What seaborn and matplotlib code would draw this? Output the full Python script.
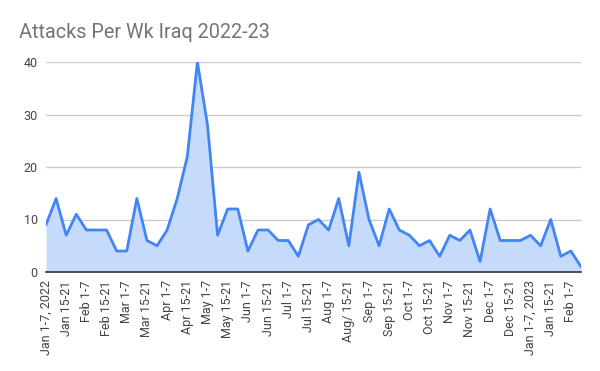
import matplotlib
matplotlib.use("Agg")
import matplotlib.pyplot as plt
import seaborn as sns
import numpy as np
import pandas as pd

attacks = [9, 14, 7, 11, 8, 8, 8, 4, 4, 14, 6, 5, 8, 14, 22, 40, 28, 7, 12, 12,
           4, 8, 8, 6, 6, 3, 9, 10, 8, 14, 5, 19, 10, 5, 12, 8, 7, 5, 6, 3,
           7, 6, 8, 2, 12, 6, 6, 6, 7, 5, 10, 3, 4, 1]
tick_labels = ["Jan 1-7, 2022", "Jan 15-21", "Feb 1-7", "Feb 15-21", "Mar 1-7",
               "Mar 15-21", "Apr 1-7", "Apr 15-21", "May 1-7", "May 15-21",
               "Jun 1-7", "Jun 15-21", "Jul 1-7", "Jul 15-21", "Aug 1-7",
               "Aug/ 15-21", "Sep 1-7", "Sep 15-21", "Oct 1-7", "Oct 15-21",
               "Nov 1-7", "Nov 15-21", "Dec 1-7", "Dec 15-21", "Jan 1-7, 2023",
               "Jan 15-21", "Feb 1-7"]
y_ticks = [0, 10, 20, 30, 40]
title = "Attacks Per Wk Iraq 2022-23"

df = pd.DataFrame({"week": np.arange(len(attacks)), "attacks": attacks})

sns.set_style("white")
plt.rcParams['font.family'] = ['Roboto', 'DejaVu Sans']

fig = plt.figure(figsize=(6, 3.71), dpi=100)
ax = fig.add_axes([46/600, 1-272/371, (581-46)/600, (272-62)/371])

line_color = "#4285f4"
ax.fill_between(df["week"], df["attacks"], 0, color="#c6dafc", linewidth=0, zorder=1)
sns.lineplot(data=df, x="week", y="attacks", ax=ax, color=line_color, linewidth=2, zorder=3)

ax.set_xlim(0, len(attacks) - 1)
ax.set_ylim(0, 40)
ax.set_yticks(y_ticks)
ax.set_yticklabels([str(v) for v in y_ticks])
ax.set_xticks(np.arange(0, len(attacks), 2)[:len(tick_labels)])
ax.set_xticklabels(tick_labels, rotation=90)
ax.grid(axis="y", color="#cccccc", linewidth=1, zorder=0)
ax.set_axisbelow(True)
for s in ["top", "right", "left"]:
    ax.spines[s].set_visible(False)
ax.spines["bottom"].set_color("#333333")
ax.spines["bottom"].set_linewidth(1.2)
ax.spines["bottom"].set_zorder(5)
ax.tick_params(axis="y", length=0, pad=6, labelsize=9, labelcolor="#444444")
ax.tick_params(axis="x", length=0, pad=6, labelsize=9, labelcolor="#444444")
ax.set_xlabel("")
ax.set_ylabel("")

fig.text(19/600, 1-33/371, title, fontsize=14.3, color="#757575", va="center", ha="left")

fig.savefig("out.png", dpi=100)
